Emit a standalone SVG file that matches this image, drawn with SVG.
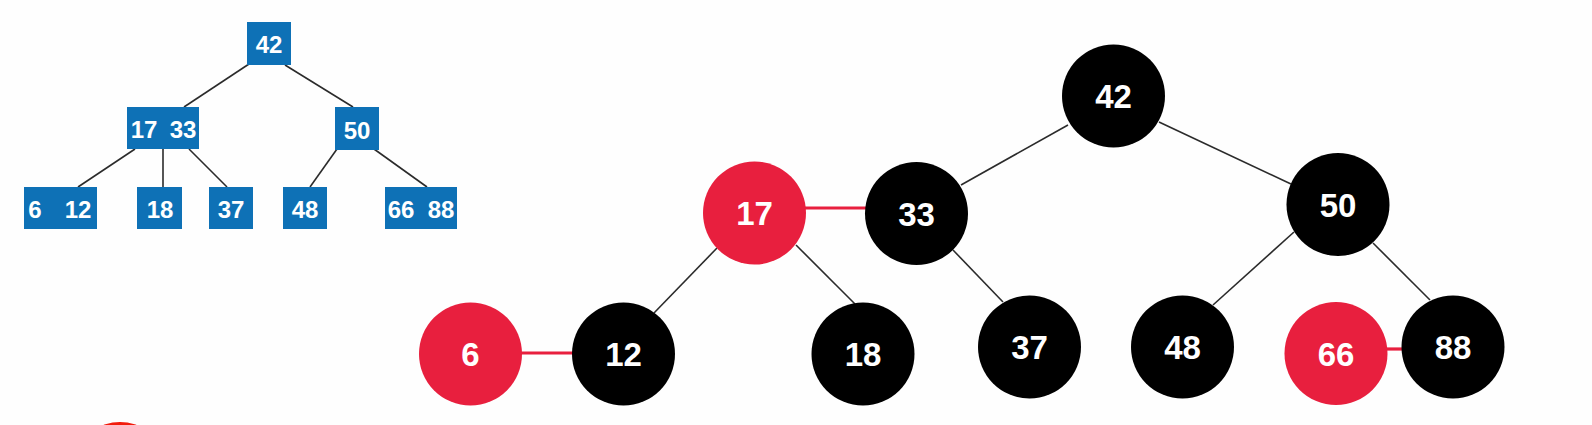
<svg xmlns="http://www.w3.org/2000/svg" width="1592" height="425" viewBox="0 0 1592 425">
<style>
.bx{fill:#0e71b6}
.bt{fill:#fff;font-family:"Liberation Sans",Arial,sans-serif;font-size:24px;font-weight:bold;text-anchor:middle}
.e{stroke:#2b2b2b;stroke-width:1.6;fill:none}
.re{stroke:#e81f3e;stroke-width:3.2;fill:none}
.blk{fill:#000}
.red{fill:#e81f3e}
.ct{fill:#fff;font-family:"Liberation Sans",Arial,sans-serif;font-size:33px;font-weight:bold;text-anchor:middle}
</style>
<rect width="1592" height="425" fill="#fefefe"/>
<g id="btree-edges">
<line class="e" x1="249" y1="64" x2="184" y2="107"/>
<line class="e" x1="285" y1="65" x2="353" y2="107"/>
<line class="e" x1="135" y1="149" x2="78" y2="187"/>
<line class="e" x1="163" y1="149" x2="163" y2="187"/>
<line class="e" x1="189" y1="149" x2="227" y2="187"/>
<line class="e" x1="337" y1="149" x2="310" y2="187"/>
<line class="e" x1="374" y1="149" x2="427" y2="187"/>
</g>
<g id="b42"><rect class="bx" x="247" y="22" width="44" height="43"/><text class="bt" x="269" y="53">42</text></g>
<g id="b1733"><rect class="bx" x="127" y="107" width="72" height="42"/><text class="bt" x="144" y="138">17</text><text class="bt" x="183" y="138">33</text></g>
<g id="b50"><rect class="bx" x="335" y="107" width="44" height="43"/><text class="bt" x="357" y="139">50</text></g>
<g id="b612"><rect class="bx" x="24" y="187" width="73" height="42"/><text class="bt" x="35" y="218">6</text><text class="bt" x="78" y="218">12</text></g>
<g id="b18"><rect class="bx" x="137" y="187" width="45" height="42"/><text class="bt" x="160" y="218">18</text></g>
<g id="b37"><rect class="bx" x="209" y="187" width="44" height="42"/><text class="bt" x="231" y="218">37</text></g>
<g id="b48"><rect class="bx" x="283" y="187" width="44" height="42"/><text class="bt" x="305" y="218">48</text></g>
<g id="b6688"><rect class="bx" x="385" y="187" width="72" height="42"/><text class="bt" x="401" y="218">66</text><text class="bt" x="441" y="218">88</text></g>
<g id="rb-edges">
<line class="e" x1="1068" y1="125" x2="961" y2="185"/>
<line class="e" x1="1159" y1="122" x2="1291" y2="184"/>
<line class="e" x1="717" y1="248" x2="654" y2="313"/>
<line class="e" x1="796" y1="245" x2="855" y2="304"/>
<line class="e" x1="953" y1="250" x2="1003" y2="302"/>
<line class="e" x1="1294" y1="232" x2="1213" y2="305"/>
<line class="e" x1="1373" y1="243" x2="1430" y2="300"/>
<line class="re" x1="800" y1="208" x2="870" y2="208"/>
<line class="re" x1="515" y1="353" x2="578" y2="353"/>
<line class="re" x1="1380" y1="349" x2="1408" y2="349"/>
</g>
<g id="n42"><circle class="blk" cx="1113.5" cy="96" r="51.5"/><text class="ct" x="1113.5" y="108">42</text></g>
<g id="n17"><circle class="red" cx="754.5" cy="213" r="51.5"/><text class="ct" x="754.5" y="225">17</text></g>
<g id="n33"><circle class="blk" cx="916.5" cy="213.5" r="51.5"/><text class="ct" x="916.5" y="225.5">33</text></g>
<g id="n50"><circle class="blk" cx="1338" cy="204.5" r="51.5"/><text class="ct" x="1338" y="216.5">50</text></g>
<g id="n6"><circle class="red" cx="470.5" cy="354" r="51.5"/><text class="ct" x="470.5" y="366">6</text></g>
<g id="n12"><circle class="blk" cx="623.5" cy="354" r="51.5"/><text class="ct" x="623.5" y="366">12</text></g>
<g id="n18"><circle class="blk" cx="863" cy="354" r="51.5"/><text class="ct" x="863" y="366">18</text></g>
<g id="n37"><circle class="blk" cx="1029.5" cy="347" r="51.5"/><text class="ct" x="1029.5" y="359">37</text></g>
<g id="n48"><circle class="blk" cx="1182.5" cy="347" r="51.5"/><text class="ct" x="1182.5" y="359">48</text></g>
<g id="n66"><circle class="red" cx="1336" cy="353.5" r="51.5"/><text class="ct" x="1336" y="365.5">66</text></g>
<g id="n88"><circle class="blk" cx="1453" cy="347" r="51.5"/><text class="ct" x="1453" y="359">88</text></g>
<ellipse cx="120" cy="452" rx="38" ry="30" fill="#f21d0e"/>
</svg>
